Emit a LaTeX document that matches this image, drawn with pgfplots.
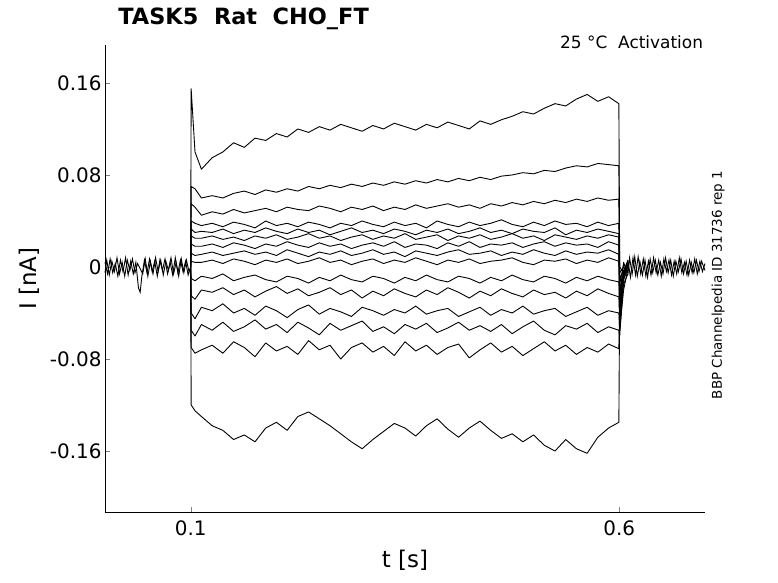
\documentclass[border=0pt]{standalone}
\usepackage{pgfplots}
\usepackage{pgfplotstable}
\usepackage{fontspec}
\setmainfont{DejaVu Sans}
\pgfplotsset{compat=1.18}
\pgfplotstableread{
x a b c d e f g h i j k l m n o
0.1 0 0 0 0 0 0 0 0 0 0 0 0 0 0 0
0.1005 155 70 55 40 33 27 20 12 5 -10 -25 -40 -55 -70 -120
0.105 100 68 52 38 30 25 18 10 4 -12 -28 -45 -60 -75 -125
0.1125 85 60 45 36 31 25 18 11 4 -8 -20 -35 -50 -72 -130
0.125 95 62 48 38 30 27 20 13 6 -10 -22 -38 -55 -68 -138
0.1375 100 60 46 35 33 24 17 10 3 -6 -18 -32 -48 -75 -142
0.15 108 64 50 39 29 26 21 12 7 -12 -24 -40 -56 -65 -150
0.1625 104 66 47 37 32 23 19 14 5 -9 -20 -36 -52 -70 -146
0.175 112 63 49 34 30 27 16 11 2 -7 -26 -42 -46 -78 -152
0.1875 110 67 51 40 34 25 20 13 6 -11 -21 -34 -54 -66 -140
0.2 116 65 48 36 31 28 18 10 4 -13 -17 -38 -50 -73 -135
0.2125 113 68 52 38 29 24 22 15 7 -8 -23 -44 -57 -69 -142
0.225 120 66 50 35 33 26 19 12 3 -10 -19 -37 -48 -76 -130
0.2375 117 70 49 39 30 29 17 9 5 -14 -25 -33 -53 -64 -126
0.25 122 68 53 37 32 25 21 13 8 -9 -22 -41 -59 -72 -132
0.2625 119 71 51 34 28 27 18 11 4 -12 -18 -36 -49 -68 -138
0.275 124 69 48 38 31 23 20 14 6 -7 -24 -39 -55 -80 -145
0.2875 121 72 52 36 34 26 16 10 2 -11 -20 -43 -51 -70 -152
0.3 118 70 50 40 30 28 19 12 5 -13 -27 -35 -47 -66 -158
0.3125 123 73 53 37 32 24 21 15 7 -8 -21 -38 -56 -74 -150
0.325 120 71 49 35 29 27 18 11 3 -10 -25 -42 -52 -69 -143
0.3375 125 74 52 39 33 25 22 13 6 -14 -19 -37 -58 -77 -136
0.35 122 72 50 36 31 29 17 9 4 -9 -23 -40 -50 -65 -140
0.3625 119 75 54 38 28 24 20 14 8 -12 -26 -34 -54 -73 -147
0.375 124 73 51 34 32 26 19 12 5 -7 -20 -41 -49 -68 -138
0.3875 121 76 53 40 30 28 16 10 2 -11 -24 -38 -57 -76 -132
0.4 126 74 55 37 33 23 21 13 6 -13 -18 -36 -53 -70 -141
0.4125 123 77 52 35 29 27 18 15 4 -8 -22 -43 -48 -67 -148
0.425 120 75 54 39 31 25 22 11 7 -10 -27 -39 -55 -79 -140
0.4375 127 78 51 36 34 28 17 12 3 -14 -21 -35 -51 -72 -134
0.45 124 76 55 38 30 24 20 14 5 -9 -25 -42 -56 -66 -142
0.4625 128 79 53 41 32 26 19 10 6 -12 -19 -37 -50 -74 -149
0.475 131 80 56 37 29 29 21 13 8 -7 -23 -40 -58 -69 -145
0.4875 135 82 54 35 33 25 17 11 4 -11 -26 -34 -52 -77 -152
0.5 133 81 57 39 31 27 20 15 2 -13 -20 -41 -47 -71 -146
0.5125 138 84 55 36 30 23 22 12 6 -8 -24 -38 -55 -65 -155
0.525 142 83 58 40 34 28 18 10 5 -10 -22 -36 -59 -73 -160
0.5375 140 86 56 37 28 26 21 14 7 -14 -27 -43 -51 -68 -150
0.55 146 88 59 38 32 24 19 11 3 -9 -21 -39 -54 -76 -158
0.5625 150 87 57 35 30 27 20 13 6 -12 -25 -35 -49 -70 -162
0.575 144 90 60 39 33 25 17 12 4 -8 -19 -42 -57 -74 -148
0.5875 148 89 58 36 31 28 22 15 8 -11 -23 -38 -52 -67 -140
0.5995 142 88 59 38 29 26 19 11 5 -13 -26 -40 -55 -71 -135
0.6005 0 -5 -10 -15 -20 -25 -30 -35 -40 -45 -50 -55 -60 -30 -20
0.605 -5 0 -3 2 -6 4 -8 -10 -12 -15 -5 -20 -8 -3 -10
0.61 3 -4 5 -2 6 -5 2 -3 4 -6 3 -2 5 -4 1
}\traces
\pgfplotstableread{
x y
0.000 4
0.003 -6
0.006 7
0.009 -5
0.012 3
0.015 -8
0.018 6
0.021 -4
0.024 8
0.027 -7
0.030 5
0.033 -6
0.036 4
0.039 -18
0.041 -22
0.043 -8
0.046 6
0.049 -5
0.052 7
0.055 -4
0.058 5
0.061 -8
0.064 6
0.067 -3
0.070 7
0.073 -6
0.076 4
0.079 -7
0.082 8
0.085 -5
0.088 6
0.091 -4
0.094 5
0.097 -7
0.100 0
}\basea
\pgfplotstableread{
x y
0.000 -5
0.002 6
0.005 -7
0.008 5
0.011 -4
0.014 8
0.017 -6
0.020 4
0.023 -8
0.026 6
0.029 -3
0.032 7
0.035 -5
0.038 3
0.044 -6
0.047 7
0.050 -8
0.053 5
0.056 -6
0.059 8
0.062 -4
0.065 6
0.068 -7
0.071 5
0.074 -3
0.077 8
0.080 -6
0.083 4
0.086 -8
0.089 7
0.092 -5
0.095 6
0.098 -4
0.100 0
}\baseb
\pgfplotstableread{
x y
0.610 6
0.613 -9
0.616 8
0.619 -7
0.622 9
0.625 -6
0.628 7
0.631 -8
0.634 5
0.637 -7
0.640 8
0.643 -5
0.646 6
0.649 -8
0.652 7
0.655 -4
0.658 6
0.661 -7
0.664 5
0.667 -6
0.670 8
0.673 -5
0.676 4
0.679 -7
0.682 6
0.685 -5
0.688 7
0.691 -6
0.694 5
0.697 -4
0.700 3
}\basec
\pgfplotstableread{
x y
0.610 -7
0.612 8
0.615 -6
0.618 9
0.621 -8
0.624 5
0.627 -7
0.630 6
0.633 -9
0.636 7
0.639 -5
0.642 6
0.645 -7
0.648 4
0.651 -6
0.654 8
0.657 -5
0.660 6
0.663 -8
0.666 5
0.669 -4
0.672 7
0.675 -6
0.678 5
0.681 -7
0.684 4
0.687 -5
0.690 6
0.693 -4
0.696 5
0.700 -3
}\based
\begin{document}
\begin{tikzpicture}[x=1bp,y=1bp]
\path[use as bounding box] (-105,-71) rectangle (673,512);
\begin{axis}[
  at={(0,0)}, anchor=south west,
  scale only axis, width=600bp, height=467bp,
  xmin=0, xmax=0.7, ymin=-0.213, ymax=0.193,
  axis x line*=bottom, axis y line*=left,
  xtick={0.1,0.6}, xticklabels={0.1,0.6},
  ytick={-0.16,-0.08,0,0.08,0.16},
  yticklabels={-0.16,-0.08,0,0.08,0.16},
  tick label style={font=\fontsize{20}{24}\selectfont},
  xticklabel style={yshift=-5bp},
  label style={font=\fontsize{23}{26}\selectfont},
  xlabel={t [s]}, ylabel={I [nA]},
  xlabel style={yshift=-8bp}, ylabel style={yshift=4bp},
  major tick length=5bp,
  clip=false,
]
\foreach \c in {a,b,c,d,e,f,g,h,i,j,k,l,m,n,o}{
  \addplot[black, mark=none, line width=0.9pt, line join=round] table[x=x, y expr=\thisrow{\c}/1000] {\traces};
}
\addplot[black, mark=none, line width=0.9pt] table[x=x, y expr=\thisrow{y}/1000] {\basea};
\addplot[black, mark=none, line width=0.9pt] table[x=x, y expr=\thisrow{y}/1000] {\baseb};
\addplot[black, mark=none, line width=0.9pt] table[x=x, y expr=\thisrow{y}/1000] {\basec};
\addplot[black, mark=none, line width=0.9pt] table[x=x, y expr=\thisrow{y}/1000] {\based};
\node[anchor=south west, font=\bfseries\fontsize{22.5}{26}\selectfont, inner sep=0pt] at (rel axis cs:0.022,1.032) {TASK5\ \ Rat\ \ CHO\_FT};
\node[anchor=base east, font=\fontsize{17}{20}\selectfont, inner sep=0pt] at (rel axis cs:0.997,0.993) {25 °C\ \ Activation};
\node[rotate=90, font=\fontsize{13.5}{16}\selectfont, inner sep=0pt] at (rel axis cs:1.022,0.486) {BBP Channelpedia ID 31736 rep 1};
\end{axis}
\end{tikzpicture}
\end{document}
